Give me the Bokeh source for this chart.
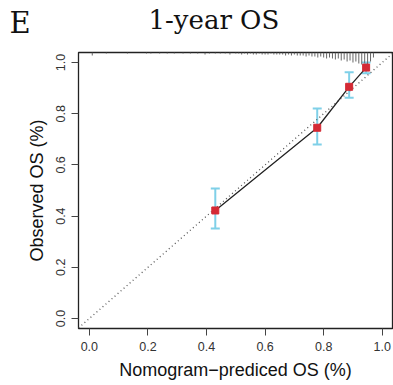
from bokeh.plotting import figure
from bokeh.models import Range1d, Label, Whisker, TeeHead, ColumnDataSource, FixedTicker
from bokeh.embed import file_html
from bokeh.resources import INLINE

# ---- data ----
pred = [0.43, 0.778, 0.887, 0.945]
obs = [0.422, 0.745, 0.905, 0.98]
obs_lo = [0.352, 0.68, 0.862, 0.958]
obs_hi = [0.508, 0.82, 0.962, 1.0]

ticks = [0.0, 0.2, 0.4, 0.6, 0.8, 1.0]
tick_labels = ["0.0", "0.2", "0.4", "0.6", "0.8", "1.0"]

# distribution of predicted values (rug/histogram at the top)
rug_x = [0.01, 0.058, 0.13, 0.195, 0.21, 0.24, 0.266, 0.29, 0.32, 0.345, 0.37, 0.395, 0.41,
         0.43, 0.447, 0.464, 0.48,
         0.50, 0.51, 0.52, 0.53, 0.54, 0.55, 0.56, 0.57, 0.58, 0.59, 0.60, 0.61, 0.62, 0.63,
         0.64, 0.65, 0.66, 0.67, 0.68, 0.69, 0.70, 0.71, 0.72, 0.73, 0.74, 0.75, 0.76, 0.77,
         0.78, 0.79, 0.80, 0.81, 0.82, 0.83, 0.84, 0.85, 0.86, 0.87, 0.88, 0.89, 0.90, 0.91,
         0.92, 0.93, 0.94, 0.95, 0.96, 0.97]
rug_n = [3, 1, 1, 1, 1, 1, 1, 1, 1, 1, 1, 2, 1,
         1, 1, 1, 2,
         1, 1, 2, 1, 2, 1, 2, 2, 1, 2, 2, 2, 1, 2,
         2, 2, 2, 3, 2, 3, 2, 3, 3, 3, 4, 3, 4, 4,
         5, 4, 5, 6, 5, 6, 7, 6, 8, 7, 9, 8, 10, 9,
         11, 12, 11, 12, 9, 5]

title_text = "1-year OS"
panel_letter = "E"

x0, x1 = -0.037, 1.035
y0, y1 = -0.039, 1.039

W, H = 393, 385
p = figure(width=W, height=H, output_backend="svg", toolbar_location=None,
           x_range=Range1d(x0, x1), y_range=Range1d(y0, y1),
           min_border_left=78, min_border_right=1, min_border_top=52, min_border_bottom=57,
           background_fill_color="white", border_fill_color="white")
p.grid.visible = False
p.outline_line_color = "#222222"
p.outline_line_width = 1.3

for ax in (p.xaxis[0], p.yaxis[0]):
    ax.ticker = FixedTicker(ticks=ticks)
    ax.major_label_overrides = {t: l for t, l in zip(ticks, tick_labels)}
    ax.axis_line_color = None
    ax.minor_tick_line_color = None
    ax.major_tick_in = 0
    ax.major_tick_out = 7
    ax.major_tick_line_color = "#444444"
    ax.major_label_text_font = "Liberation Sans"
    ax.major_label_text_font_size = "12.5px"
    ax.major_label_text_color = "#333333"
    ax.axis_label_text_font = "Liberation Sans"
    ax.axis_label_text_font_size = "18px"
    ax.axis_label_text_font_style = "normal"
    ax.axis_label_text_color = "#111111"
    ax.major_label_standoff = 6

p.xaxis.axis_label = "Nomogram\u2212prediced OS (%)"
p.yaxis.axis_label = "Observed OS (%)"
p.yaxis.major_label_orientation = "vertical"
p.xaxis.axis_label_standoff = 6
p.yaxis.axis_label_standoff = 7

# ideal diagonal
p.line([x0, x1], [x0, x1], line_color="#555555", line_dash="1 3", line_width=1.3)

# rug at top
px_per_unit = 256.0
rug_top = [y1] * len(rug_x)
rug_bot = [y1 - n / px_per_unit for n in rug_n]
p.segment(x0=rug_x, y0=rug_top, x1=rug_x, y1=rug_bot, line_color="#666666", line_width=1)

# calibration line
p.line(pred, obs, line_color="#222222", line_width=1.3)

# error bars
src = ColumnDataSource(dict(x=pred, lo=obs_lo, hi=obs_hi))
w = Whisker(source=src, base="x", lower="lo", upper="hi", dimension="height",
            line_color="#7fd0e8", line_width=2,
            upper_head=TeeHead(size=9, line_color="#7fd0e8", line_width=2),
            lower_head=TeeHead(size=9, line_color="#7fd0e8", line_width=2))
p.add_layout(w)

p.scatter(pred, obs, marker="square", size=7, fill_color="#d42a35", line_color="#d42a35")

# title and panel letter, placed in side panels so they are not clipped to the frame
p.add_layout(Label(x=148, y=19, x_units="canvas", y_units="canvas", text=title_text,
                   text_align="left", text_baseline="alphabetic",
                   text_font="DejaVu Serif", text_font_size="26px", text_color="#111111"), "above")
p.add_layout(Label(x=9, y=22, x_units="canvas", y_units="canvas", text=panel_letter,
                   text_align="left", text_baseline="alphabetic",
                   text_font="DejaVu Serif", text_font_size="29px", text_color="#111111"), "left")

open("out.html", "w").write(file_html(p, INLINE))
